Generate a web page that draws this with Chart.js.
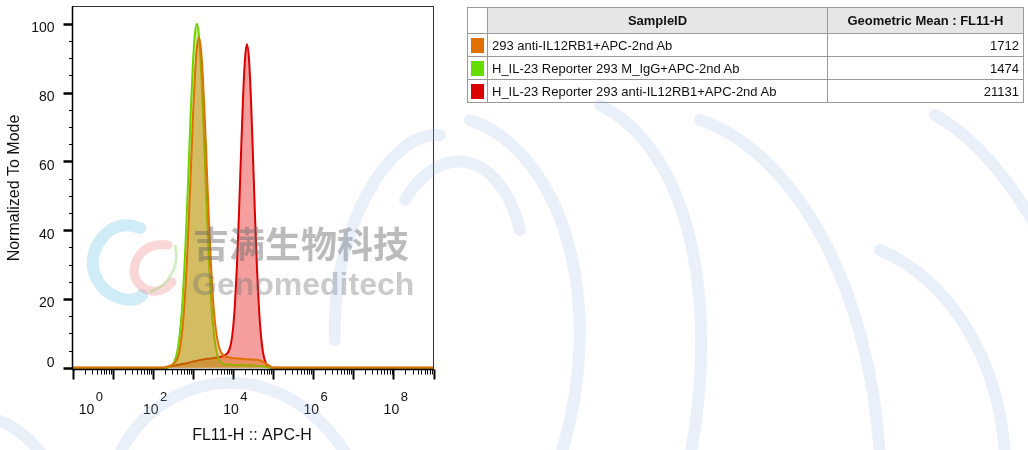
<!DOCTYPE html>
<html>
<head>
<meta charset="utf-8">
<script src="https://cdn.jsdelivr.net/npm/chart.js@4.4.0/dist/chart.umd.min.js"></script>
<style>
  html, body { margin: 0; padding: 0; background: #fff; overflow: hidden; }
  #wrap { position: relative; width: 1028px; height: 450px; font-family: "Liberation Sans", Arial, sans-serif; }
  #chart { position: absolute; left: 0; top: 0; z-index: 1; }
  #bg { position: absolute; left: 0; top: 0; z-index: 4; pointer-events: none; }
  #mark { position: absolute; left: 0; top: 0; z-index: 3; pointer-events: none; }
  .cn { position: absolute; left: 193px; top: 220px; font: bold 36px "Noto Sans CJK SC", sans-serif; color: rgba(105,105,105,0.45); white-space: nowrap; line-height: 44px; }
  .en { position: absolute; left: 192px; top: 266px; font: bold 32px "Liberation Sans", Arial, sans-serif; color: rgba(115,115,115,0.38); white-space: nowrap; }
  table { position: absolute; left: 467px; top: 7px; border-collapse: collapse; z-index: 2; font-size: 13px; color: #111; border: 1px solid #666; }
  td, th { border: 1px solid #9a9a9a; padding: 0 4px; height: 22px; white-space: nowrap; }
  th { height: 25px; background: #e6e6e6; font-weight: bold; }
  th.blank { background: #fff; }
  td.sw { width: 12px; padding: 0 3px; }
  td.sw span { display: block; width: 13px; height: 15px; }
  td.num { text-align: right; }
</style>
</head>
<body>
<div id="wrap">
  <canvas id="chart" width="1028" height="450"></canvas>
  <svg id="bg" width="1028" height="450">
    <g fill="none" stroke="rgba(150,180,230,0.2)" stroke-width="12" stroke-linecap="round">
      <path d="M -10 418 Q 20 425 42 455"/>
      <path d="M 118 458 C 150 380, 270 340, 345 452"/>
      <path d="M 335 340 C 330 230, 390 130, 440 135"/>
      <path d="M 405 200 C 440 140, 500 150, 520 230"/>
      <path d="M 470 120 C 560 150, 610 300, 560 458"/>
      <path d="M 600 105 C 690 150, 720 300, 690 458"/>
      <path d="M 700 120 C 790 150, 870 280, 880 458"/>
      <path d="M 880 250 C 950 280, 1000 360, 1005 458"/>
      <path d="M 935 115 C 980 140, 1015 190, 1035 225"/>
    </g>
  </svg>
  <div id="mark">
    <svg width="200" height="120" style="position:absolute;left:80px;top:210px;">
      <path d="M 60 18 C 30 5, 5 40, 15 65 C 25 90, 55 95, 62 85" fill="none" stroke="rgba(120,200,230,0.35)" stroke-width="12" stroke-linecap="round"/>
      <path d="M 88 35 C 60 30, 45 60, 60 75 C 70 85, 85 82, 92 72" fill="none" stroke="rgba(240,140,140,0.35)" stroke-width="9" stroke-linecap="round"/>
      <path d="M 95 35 C 100 55, 90 75, 70 82" fill="none" stroke="rgba(150,210,120,0.4)" stroke-width="3"/>
    </svg>
    <div class="cn">吉满生物科技</div>
    <div class="en">Genomeditech</div>
  </div>
  <table>
    <tr><th class="blank"></th><th style="width:331px">SampleID</th><th style="width:187px">Geometric Mean : FL11-H</th></tr>
    <tr><td class="sw"><span style="background:#e07000"></span></td><td>293 anti-IL12RB1+APC-2nd Ab</td><td class="num">1712</td></tr>
    <tr><td class="sw"><span style="background:#66dd00"></span></td><td>H_IL-23 Reporter 293 M_IgG+APC-2nd Ab</td><td class="num">1474</td></tr>
    <tr><td class="sw"><span style="background:#dd0000"></span></td><td>H_IL-23 Reporter 293 anti-IL12RB1+APC-2nd Ab</td><td class="num">21131</td></tr>
  </table>
</div>
<script>
// FL11-H bin centres (log spaced, 0.05 decade steps), with the axis ends added for the baseline
const bins = [1,
  158, 178, 200, 224, 251, 282, 316, 355, 398, 447,
  501, 562, 631, 708, 794, 891, 1000, 1122, 1259, 1413,
  1585, 1778, 1995, 2239, 2512, 2818, 3162, 3548, 3981, 4467,
  5012, 5623, 6310, 7079, 7943, 8913, 10000, 11220, 12589, 14125,
  15849, 17783, 19953, 22387, 25119, 28184, 31623, 35481, 39811, 44668,
  50119, 56234, 63096, 70795, 79433, 89125, 100000,
  1e9];

const orangeCounts = [0,
  0, 0, 0.1, 0.3, 0.5, 0.7, 1.0, 1.5, 2.3, 4.0,
  7.2, 12.4, 20, 30.2, 43.1, 57.5, 72, 84.5, 92.9, 96,
  92.9, 84.5, 72, 57.5, 43.1, 30.5, 20.5, 13.5, 9, 6.2,
  4.6, 3.8, 3.3, 3.1, 3.0, 2.9, 2.8, 2.8, 2.7, 2.7,
  2.6, 2.6, 2.5, 2.5, 2.5, 2.4, 2.4, 2.3, 2.3, 2.2,
  2.0, 1.7, 1.4, 1.0, 0.7, 0.3, 0,
  0];

const greenCounts = [0,
  0, 0, 0, 0, 0.2, 0.45, 1.0, 2.1, 4.1, 7.5,
  12.9, 20.8, 31.5, 45, 60, 75, 88, 96.8, 100, 96.8,
  88, 75, 60, 45, 31.5, 20.8, 12.9, 7.5, 4.3, 2.5,
  1.6, 1.2, 1.0, 1.0, 0.9, 0.9, 0.9, 0.8, 0.8, 0.8,
  0.8, 0.8, 0.7, 0.7, 0.7, 0.7, 0.7, 0.6, 0.6, 0.5,
  0.5, 0.4, 0.3, 0.2, 0.1, 0, 0,
  0];

const redCounts = [0,
  0, 0, 0, 0.1, 0.3, 0.4, 0.5, 0.6, 0.8, 0.9,
  1.0, 1.1, 1.2, 1.3, 1.5, 1.6, 1.8, 1.9, 2.0, 2.2,
  2.3, 2.4, 2.5, 2.6, 2.6, 2.7, 2.8, 2.9, 3.0, 3.1,
  3.2, 3.4, 3.7, 4.1, 5.0, 7, 11.2, 18.6, 29.8, 44.7,
  61.8, 78, 89.7, 94, 89.7, 77.8, 61.4, 44.1, 28.8, 17.1,
  9.2, 4.5, 2.0, 0.8, 0.3, 0.1, 0,
  0];

const seriesNames = ['293 anti-IL12RB1+APC-2nd Ab', 'H_IL-23 Reporter 293 M_IgG+APC-2nd Ab', 'H_IL-23 Reporter 293 anti-IL12RB1+APC-2nd Ab'];
const yTicks = [0, 20, 40, 60, 80, 100];
const xLabelPowers = [0, 2, 4, 6, 8];

function toPoints(counts) {
    return bins.map((b, i) => ({x: b, y: counts[i]}));
}

const FONT = '"Liberation Sans", Arial, sans-serif';

const axesPlugin = {
    id: 'flowAxes',
    afterDraw(chart) {
        const ctx = chart.ctx;
        const a = chart.chartArea;
        const xs = chart.scales.x, ys = chart.scales.y;
        ctx.save();
        // frame
        ctx.strokeStyle = '#333';
        ctx.lineWidth = 1;
        ctx.strokeRect(a.left, a.top, a.right - a.left, a.bottom - a.top);
        ctx.strokeStyle = '#000';
        ctx.lineWidth = 1.5;
        ctx.beginPath();
        ctx.moveTo(a.left, a.top); ctx.lineTo(a.left, a.bottom); ctx.lineTo(a.right, a.bottom);
        ctx.stroke();

        // y ticks
        for (let v = 0; v <= 100; v += 5) {
            const y = Math.round(ys.getPixelForValue(v)) + 0.5;
            const major = v % 20 === 0;
            ctx.lineWidth = major ? 2.5 : 1;
            ctx.beginPath();
            ctx.moveTo(a.left - (major ? 9 : 3.5), y);
            ctx.lineTo(a.left, y);
            ctx.stroke();
        }
        ctx.fillStyle = '#111';
        ctx.font = '14px ' + FONT;
        ctx.textAlign = 'right';
        ctx.textBaseline = 'middle';
        yTicks.forEach(v => {
            const y = ys.getPixelForValue(v);
            ctx.fillText(String(v), a.left - 18, v === 0 ? y - 5 : y + 4.5);
        });

        // x ticks (log decades with 2..9 minors)
        for (let n = 0; n <= 9; n++) {
            for (let k = 1; k <= 9; k++) {
                if (n === 9 && k > 1) break;
                const v = k * Math.pow(10, n);
                const x = Math.round(xs.getPixelForValue(v)) + 0.5;
                const major = k === 1;
                ctx.lineWidth = major ? 2 : 1;
                ctx.beginPath();
                ctx.moveTo(x, a.bottom);
                ctx.lineTo(x, a.bottom + (major ? 10 : 5));
                ctx.stroke();
            }
        }
        xLabelPowers.forEach(p => {
            let cx = xs.getPixelForValue(Math.pow(10, p)) - 2;
            if (p === 0) cx = a.left + 14;
            ctx.font = '14px ' + FONT;
            ctx.textAlign = 'center';
            ctx.fillText('10', cx, 410);
            const w = ctx.measureText('10').width;
            ctx.font = '13px ' + FONT;
            ctx.textAlign = 'left';
            ctx.fillText(String(p), cx + w / 2 + 1.5, 397.5);
        });

        // axis titles
        ctx.font = '16px ' + FONT;
        ctx.textAlign = 'center';
        ctx.fillText('FL11-H :: APC-H', 252, 436);
        ctx.translate(15, 188);
        ctx.rotate(-Math.PI / 2);
        ctx.fillText('Normalized To Mode', 0, 0);
        ctx.restore();
    }
};

function makeSet(label, counts, line, fill) {
    return {
        label: label,
        data: toPoints(counts),
        borderColor: line,
        backgroundColor: fill,
        borderWidth: 2,
        fill: 'origin',
        pointRadius: 0,
        cubicInterpolationMode: 'monotone'
    };
}

function drawChart() {
    const ctx = document.getElementById('chart');
    new Chart(ctx, {
        type: 'line',
        data: {
            datasets: [
                makeSet(seriesNames[0], orangeCounts, '#e07000', 'rgba(224,112,0,0.38)'),
                makeSet(seriesNames[1], greenCounts, '#6fd400', 'rgba(120,200,0,0.38)'),
                makeSet(seriesNames[2], redCounts, '#dd0000', 'rgba(225,0,0,0.38)')
            ]
        },
        options: {
            responsive: false,
            animation: false,
            devicePixelRatio: 1,
            layout: {padding: {left: 72.5, top: 6.5, right: 594.5, bottom: 80.5}},
            plugins: {legend: {display: false}, tooltip: {enabled: false}},
            scales: {
                x: {type: 'logarithmic', min: 1, max: 1e9, display: false},
                y: {type: 'linear', min: -0.5, max: 105, display: false}
            }
        },
        plugins: [axesPlugin]
    });
}

window.addEventListener('load', evt => drawChart());
</script>
</body>
</html>
